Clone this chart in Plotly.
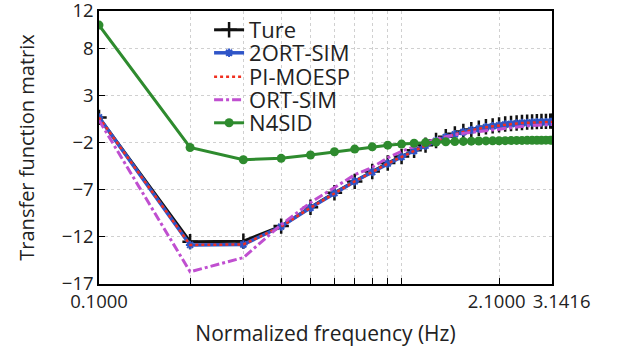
import math
import plotly.graph_objects as go

# Frequencies (normalized, Hz)
freq = [0.1, 0.2, 0.3, 0.4, 0.5, 0.6, 0.7, 0.8, 0.9, 1.0,
        1.1, 1.2, 1.3, 1.4, 1.5, 1.6, 1.7, 1.8, 1.9, 2.0,
        2.1, 2.2, 2.3, 2.4, 2.5, 2.6, 2.7, 2.8, 2.9, 3.0,
        3.1, 3.1416]

ture = [0.7, -12.5, -12.45, -10.85, -8.85, -7.3, -6.1, -5.05, -4.15, -3.45,
        -2.8, -2.25, -1.75, -1.35, -1.05, -0.8, -0.6, -0.45, -0.3, -0.2,
        -0.1, 0.0, 0.05, 0.1, 0.15, 0.2, 0.22, 0.25, 0.27, 0.28,
        0.3, 0.3]

ort2_sim = [0.7, -12.85, -12.8, -10.9, -8.9, -7.35, -6.1, -5.1, -4.2, -3.5,
            -2.85, -2.3, -1.8, -1.4, -1.1, -0.85, -0.65, -0.5, -0.35, -0.25,
            -0.15, -0.05, 0.0, 0.05, 0.1, 0.12, 0.15, 0.18, 0.2, 0.2,
            0.22, 0.22]

pi_moesp = [0.7, -12.85, -12.8, -10.9, -8.9, -7.35, -6.1, -5.1, -4.2, -3.5,
            -2.85, -2.3, -1.8, -1.4, -1.1, -0.85, -0.65, -0.5, -0.35, -0.25,
            -0.15, -0.05, 0.0, 0.05, 0.1, 0.12, 0.15, 0.18, 0.2, 0.2,
            0.22, 0.22]

ort_sim = [0.4, -15.7, -14.2, -10.7, -8.35, -6.75, -5.4, -4.6, -3.6, -2.9,
           -2.4, -1.95, -1.6, -1.35, -1.15, -1.0, -0.9, -0.8, -0.7, -0.6,
           -0.5, -0.42, -0.36, -0.3, -0.25, -0.2, -0.16, -0.13, -0.1, -0.08,
           -0.06, -0.05]

n4sid = [10.5, -2.5, -3.8, -3.65, -3.3, -2.95, -2.67, -2.43, -2.25, -2.14,
         -2.05, -1.98, -1.93, -1.9, -1.87, -1.85, -1.83, -1.81, -1.8, -1.79,
         -1.78, -1.77, -1.76, -1.75, -1.75, -1.74, -1.74, -1.73, -1.73, -1.72,
         -1.72, -1.72]

x_tickvals = [0.1, 0.2, 0.3, 0.4, 0.5, 0.6, 0.7, 0.8, 0.9, 1.0, 2.1, 3.1416]
x_ticktext = ["0.1000", "", "", "", "", "", "", "", "", "",
              "2.1000\u00a0", "\u00a0\u00a0\u00a0\u00a03.1416"]
y_tickvals = [-17, -12, -7, -2, 3, 8, 12]

FONT = "Open Sans"
TXT = "#222222"

fig = go.Figure()
fig.add_trace(go.Scatter(
    x=freq, y=ture, name="Ture", mode="lines+markers", legend="legend",
    line=dict(color="#111111", width=3),
    marker=dict(symbol="cross-thin-open", size=11,
                line=dict(color="#111111", width=2.5))))
fig.add_trace(go.Scatter(
    x=freq, y=ort2_sim, name="2ORT-SIM", mode="lines+markers", legend="legend2",
    line=dict(color="#2f55c8", width=3.5),
    marker=dict(symbol="asterisk-open", size=7, color="#2f55c8",
                line=dict(color="#2f55c8", width=2))))
fig.add_trace(go.Scatter(
    x=freq, y=pi_moesp, name="PI-MOESP", mode="lines", legend="legend3",
    line=dict(color="#f03020", width=2.5, dash="dot")))
fig.add_trace(go.Scatter(
    x=freq, y=ort_sim, name="ORT-SIM", mode="lines", legend="legend4",
    line=dict(color="#c04fd0", width=3, dash="dashdot")))
fig.add_trace(go.Scatter(
    x=freq, y=n4sid, name="N4SID", mode="lines+markers", legend="legend5",
    line=dict(color="#2e8b2e", width=3),
    marker=dict(symbol="circle", size=9, color="#2e8b2e")))

axis_common = dict(
    showline=True, linecolor="black", linewidth=1.5, mirror=True,
    ticks="inside", ticklen=6, tickcolor="black", tickwidth=1.2,
    showgrid=True, gridcolor="#d0d0d0", griddash="dot", gridwidth=1,
    zeroline=False, automargin=True, ticklabeloverflow="allow",
    tickfont=dict(family=FONT, size=18.5, color=TXT),
)

PLOT_TOP, PLOT_H = 11, 273
legend_centers_px = [30, 53, 77, 100, 123]


def legend_cfg(yc):
    return dict(x=0.243, y=1 - (yc - PLOT_TOP) / PLOT_H,
                xanchor="left", yanchor="middle",
                bgcolor="rgba(255,255,255,0)", borderwidth=0,
                font=dict(family=FONT, size=22, color=TXT))


fig.update_layout(
    width=627, height=358,
    margin=dict(l=99, r=75, t=11, b=74, autoexpand=False),
    paper_bgcolor="white", plot_bgcolor="white",
    font=dict(family=FONT, color=TXT),
    showlegend=True,
    legend=legend_cfg(legend_centers_px[0]),
    legend2=legend_cfg(legend_centers_px[1]),
    legend3=legend_cfg(legend_centers_px[2]),
    legend4=legend_cfg(legend_centers_px[3]),
    legend5=legend_cfg(legend_centers_px[4]),
    xaxis=dict(type="log", range=[-1, math.log10(3.1416)],
               tickmode="array", tickvals=x_tickvals, ticktext=x_ticktext,
               tickangle=0,
               title=dict(text="Normalized frequency (Hz)", standoff=14,
                          font=dict(family=FONT, size=21, color=TXT)),
               **axis_common),
    yaxis=dict(range=[-17, 12], tickmode="array", tickvals=y_tickvals,
               title=dict(text="Transfer function matrix", standoff=22,
                          font=dict(family=FONT, size=20, color=TXT)),
               **axis_common),
)

fig.write_html("out.html",
               config={"displayModeBar": False},
               post_script="document.body.style.margin='0px';")
